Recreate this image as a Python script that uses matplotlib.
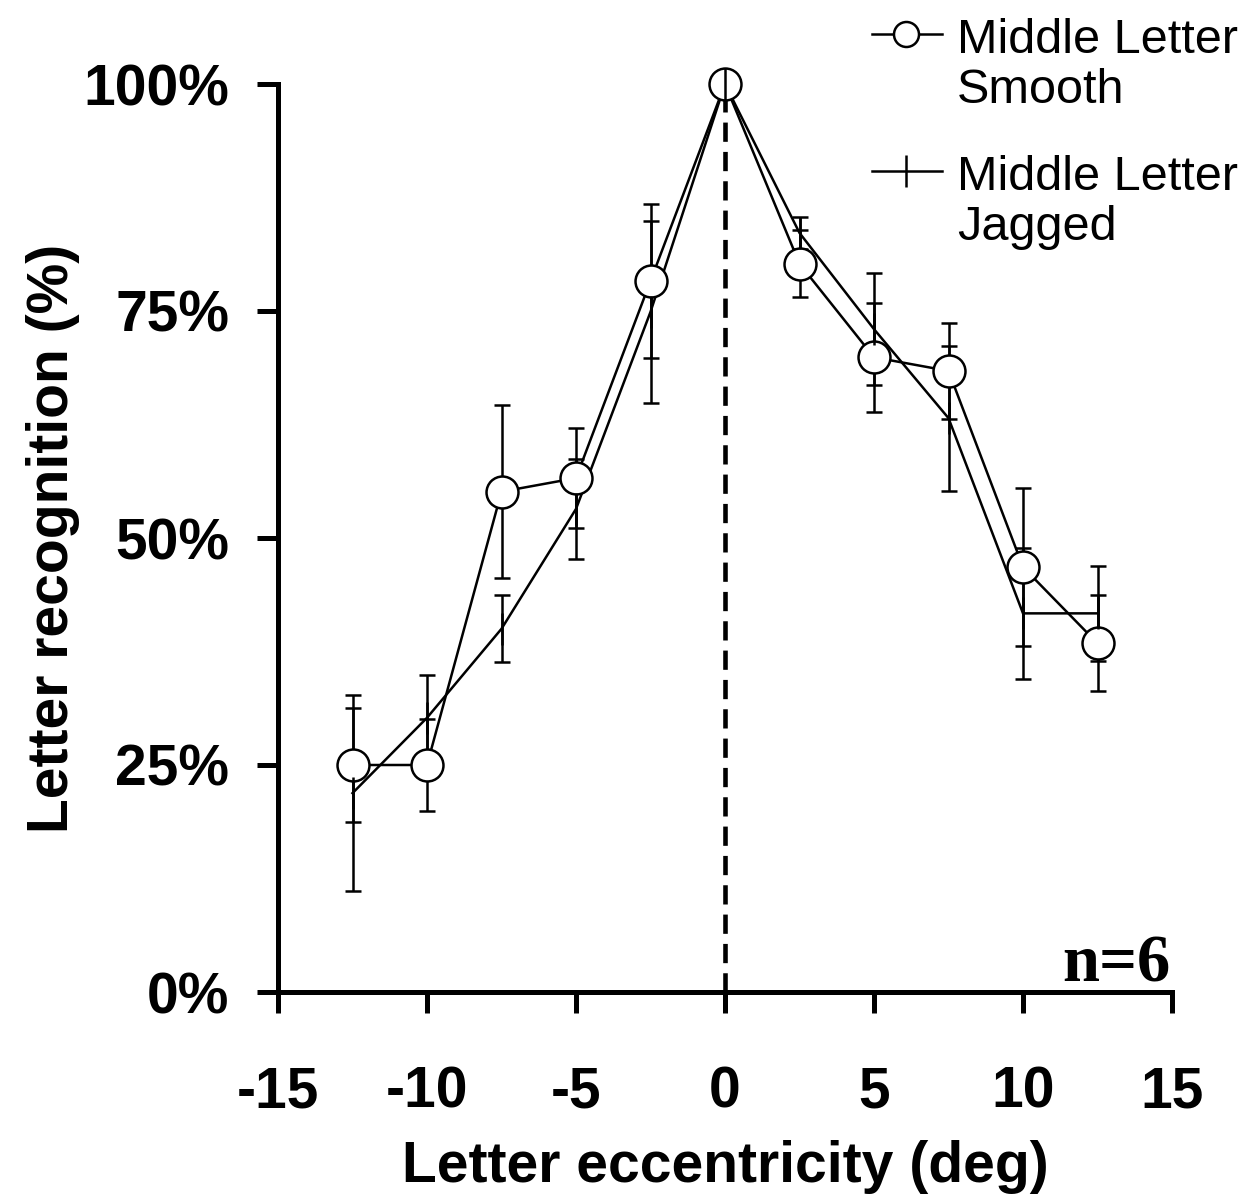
import matplotlib.pyplot as plt
from matplotlib.lines import Line2D
import numpy as np

plt.rcParams['font.family'] = ['Liberation Sans', 'DejaVu Sans']
plt.rcParams['axes.unicode_minus'] = False

# eccentricity (deg) and recognition (%) per condition
ecc = [-12.5, -10, -7.5, -5, -2.5, 0, 2.5, 5, 7.5, 10, 12.5]
smooth = [25.0, 25.0, 55.1, 56.6, 78.3, 100, 80.2, 69.9, 68.4, 46.8, 38.4]
smooth_err = [6.3, 5.1, 9.5, 5.5, 8.5, 0, 3.7, 6.0, 5.3, 8.7, 5.3]
jagged = [21.9, 30.2, 40.0, 53.2, 74.9, 100, 83.6, 73.0, 63.2, 41.7, 41.7]
jagged_err = [10.8, 4.7, 3.7, 5.5, 10.0, 0, 1.8, 6.2, 8.0, 7.2, 5.2]

xticks = [-15, -10, -5, 0, 5, 10, 15]
yticks = [0, 25, 50, 75, 100]
ytick_labels = ['0%', '25%', '50%', '75%', '100%']
names = ['Middle Letter\nSmooth', 'Middle Letter\nJagged']

W, H = 1239, 1201
LW = 1.8
fig = plt.figure(figsize=(W / 100, H / 100), dpi=100)
ax = fig.add_axes([278 / W, 1 - 992 / H, (1172 - 278) / W, (992 - 84) / H])

# midline at fixation
ax.plot([0, 0], [0, 100], color='black', lw=3.3, dashes=(4.2, 2.2), zorder=1)

# jagged condition: line + error bars under the circles
ax.errorbar(ecc, jagged, yerr=jagged_err, color='black', lw=LW, elinewidth=LW,
            capsize=6, capthick=LW, zorder=2)
# smooth condition
ax.errorbar(ecc, smooth, yerr=smooth_err, color='black', lw=LW, elinewidth=LW,
            capsize=6, capthick=LW, marker='o', ms=23, mfc='white', mec='black',
            mew=LW, zorder=3, clip_on=False)
ax.plot(ecc, jagged, ls='none', marker='|', ms=23, mew=LW, color='black', zorder=4,
        clip_on=False)

ax.set_xlim(-15, 15)
ax.set_ylim(0, 100)
ax.set_xticks(xticks)
ax.set_yticks(yticks)
ax.set_yticklabels(ytick_labels)
for s in ['top', 'right']:
    ax.spines[s].set_visible(False)
for s in ['left', 'bottom']:
    ax.spines[s].set_linewidth(3.6)
ax.tick_params(direction='out', length=15, width=3.6, labelsize=41)
ax.tick_params(axis='y', pad=20)
ax.tick_params(axis='x', pad=38)
for lab in ax.get_xticklabels() + ax.get_yticklabels():
    lab.set_fontweight('bold')

ax.set_xlabel('Letter eccentricity (deg)', fontsize=41, fontweight='bold')
ax.set_ylabel('Letter recognition (%)', fontsize=41, fontweight='bold')
ax.xaxis.set_label_coords(0.5, (992 - 1140) / 908)
ax.yaxis.set_label_coords((80 - 278) / 894, 0.5)

ax.text(1170 / W, 1 - 982 / H, 'n=6', transform=fig.transFigure, ha='right',
        va='baseline', fontsize=48, fontweight='bold',
        family=['Liberation Serif', 'DejaVu Serif'])

# legend drawn by hand so the symbol sits on the first text line
def fx(px):
    return px / W

def fy(py):
    return 1 - py / H

handles = [dict(marker='o', ms=18, mfc='white'), dict(marker='|', ms=23, mfc='black')]
rows = [34, 171]
for name, hd, ry in zip(names, handles, rows):
    fig.add_artist(Line2D([fx(872), fx(942)], [fy(ry), fy(ry)], color='black', lw=LW,
                          transform=fig.transFigure))
    fig.add_artist(Line2D([fx(906)], [fy(ry)], color='black', ls='none',
                          marker=hd['marker'], ms=hd['ms'], mfc=hd['mfc'], mec='black',
                          mew=LW, transform=fig.transFigure))
    first, second = name.split('\n')
    fig.text(fx(957), fy(ry + 19), first, fontsize=35, va='baseline', ha='left')
    fig.text(fx(957), fy(ry + 69), second, fontsize=35, va='baseline', ha='left')

fig.savefig('out.png', dpi=100)
